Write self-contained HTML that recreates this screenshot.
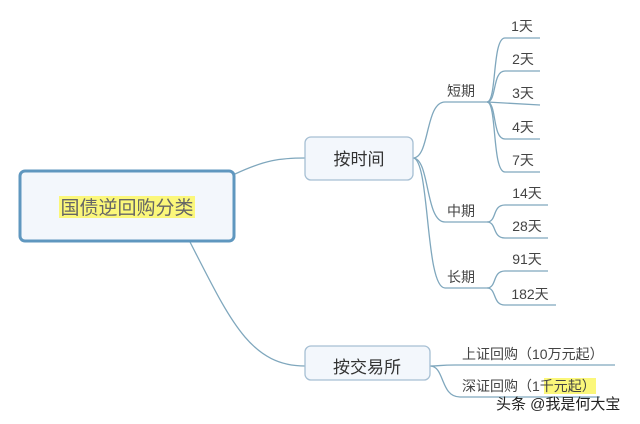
<!DOCTYPE html>
<html><head><meta charset="utf-8"><style>
html,body{margin:0;padding:0;background:#fff;}
svg{display:block;font-family:"Liberation Sans","Noto Sans CJK SC",sans-serif;}
</style></head><body>
<svg width="640" height="424" viewBox="0 0 640 424" xmlns="http://www.w3.org/2000/svg">
<g fill="none" stroke="#7fa7bd" stroke-width="1.3">
<path d="M235 174 C265 160 280 158 305 158"/>
<path d="M190 242 C230 320 250 366 305 366"/>
<!-- 按时间 branches -->
<path d="M413 158 C430 158 425 102 445 102 L487 102"/>
<path d="M413 158 C430 158 425 222 445 222 L487 222"/>
<path d="M413 158 C430 158 425 288 445 288 L487 288"/>
<!-- short leaves -->
<path d="M487 102 C497 102 492 38 505 38 L540 38"/>
<path d="M487 102 C497 102 492 71 505 71 L540 71"/>
<path d="M487 102 L540 105"/>
<path d="M487 102 C497 102 492 139 505 139 L540 139"/>
<path d="M487 102 C497 102 492 172 505 172 L540 172"/>
<path d="M487 222 C497 222 492 205 505 205 L548 205"/>
<path d="M487 222 C497 222 492 238 505 238 L548 238"/>
<path d="M487 288 C497 288 492 271 505 271 L548 271"/>
<path d="M487 288 C497 288 492 305 505 305 L556 305"/>
<!-- exchange -->
<path d="M430 366 C440 366 440 365 455 365 L615 365"/>
<path d="M430 366 C445 366 440 397 460 397 L600 397"/>
</g>
<rect x="20" y="171" width="214" height="70" rx="5" fill="#f3f7fc" stroke="#5f97bf" stroke-width="3"/>
<rect x="59" y="196" width="136" height="22" fill="#fbf77a"/>
<text x="127" y="214" font-size="19" text-anchor="middle" fill="#666">国债逆回购分类</text>
<rect x="305" y="137" width="108" height="43" rx="6" fill="#f3f7fc" stroke="#a6bfd3" stroke-width="1.3"/>
<text x="359" y="165" font-size="17" text-anchor="middle" fill="#333">按时间</text>
<rect x="305" y="346" width="125" height="34" rx="6" fill="#f3f7fc" stroke="#a6bfd3" stroke-width="1.3"/>
<text x="367" y="373" font-size="17" text-anchor="middle" fill="#333">按交易所</text>
<g font-size="14" fill="#444" text-anchor="middle">
<text x="461" y="96">短期</text>
<text x="461" y="216">中期</text>
<text x="461" y="282">长期</text>
<text x="522" y="31">1天</text>
<text x="523" y="64">2天</text>
<text x="523" y="98">3天</text>
<text x="523" y="132">4天</text>
<text x="523" y="165">7天</text>
<text x="527" y="198">14天</text>
<text x="527" y="231">28天</text>
<text x="527" y="264">91天</text>
<text x="530" y="299">182天</text>
</g>
<rect x="544" y="378" width="52" height="16" fill="#fbf77a"/>
<g font-size="14" fill="#444">
<text x="462" y="359">上证回购（10万元起）</text>
<text x="462" y="391">深证回购（1千元起）</text>
</g>
<text x="496" y="409" font-size="15" fill="#222">头条 @我是何大宝</text>
</svg>
</body></html>
